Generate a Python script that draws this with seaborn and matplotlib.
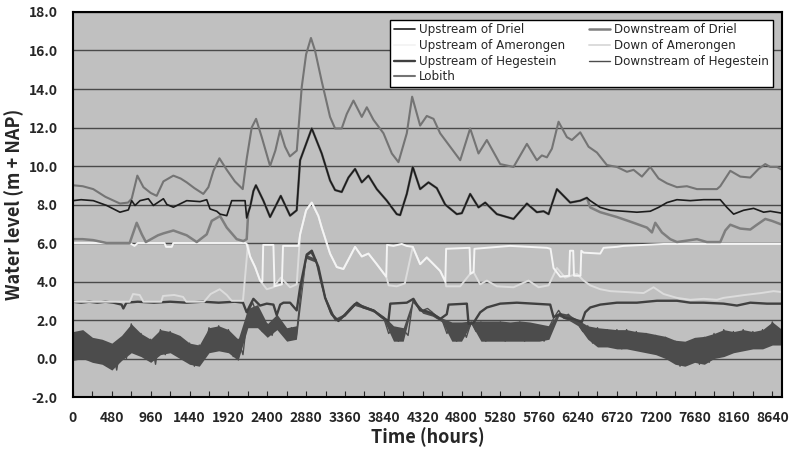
import numpy as np
import pandas as pd
import seaborn as sns
import matplotlib.pyplot as plt

# ---- data (hours, water level m + NAP) ----
lobith_h = [0, 120, 250, 400, 580, 680, 725, 795, 870, 960, 1034, 1117, 1240, 1330, 1405, 1500,
            1610, 1673, 1735, 1809, 1900, 2000, 2097, 2147, 2208, 2262, 2332, 2435, 2500, 2558,
            2620, 2680, 2765, 2826, 2880, 2940, 2990, 3073, 3176, 3238, 3320, 3382, 3465, 3568,
            3630, 3712, 3836, 3939, 4021, 4124, 4190, 4289, 4371, 4454, 4536, 4660, 4784, 4907,
            5010, 5113, 5278, 5443, 5608, 5731, 5793, 5855, 5917, 5999, 6102, 6164, 6267, 6370,
            6473, 6596, 6720, 6844, 6926, 7029, 7132, 7235, 7338, 7462, 7585, 7709, 7832, 7956,
            7997, 8121, 8244, 8368, 8471, 8553, 8615, 8698, 8760]
lobith_v = [9.0, 8.95, 8.8, 8.4, 8.05, 8.1, 8.3, 9.5, 8.9, 8.6, 8.45, 9.2, 9.5, 9.35, 9.15, 8.85,
            8.55, 8.9, 9.75, 10.4, 9.8, 9.2, 8.8, 10.4, 12.0, 12.45, 11.5, 10.0, 10.8, 11.85,
            11.0, 10.5, 10.8, 14.1, 15.8, 16.65, 16.0, 14.4, 12.55, 11.95, 11.95, 12.7, 13.4, 12.55,
            13.05, 12.4, 11.7, 10.65, 10.2, 11.7, 13.6, 12.1, 12.6, 12.45, 11.7, 11.0, 10.3, 11.95,
            10.65, 11.35, 10.1, 9.95, 11.15, 10.3, 10.55, 10.45, 10.9, 12.3, 11.5, 11.35, 11.75, 11.0,
            10.7, 10.05, 9.95, 9.7, 9.8, 9.45, 9.95, 9.35, 9.1, 8.9, 8.95, 8.8, 8.8, 8.8,
            8.95, 9.75, 9.45, 9.4, 9.85, 10.1, 9.95, 9.95, 9.8]

# Driel: both gauges read the same while the weir is open
driel_open_h = [2229, 2260, 2352, 2435, 2567, 2682, 2764, 2806, 2950, 3073, 3176, 3238, 3320, 3403,
                3485, 3568, 3650, 3753, 3877, 4000, 4042, 4124, 4198, 4289, 4392, 4495, 4598, 4742,
                4804, 4907, 5010, 5093, 5237, 5443, 5608, 5731, 5814, 5876, 5979, 6061, 6143, 6267,
                6349]
driel_open_v = [8.7, 9.0, 8.2, 7.35, 8.45, 7.42, 7.7, 10.3, 11.95, 10.65, 9.25, 8.75, 8.65, 9.4,
                9.85, 9.15, 9.5, 8.8, 8.2, 7.5, 7.45, 8.55, 9.95, 8.8, 9.15, 8.85, 8.0, 7.5,
                7.55, 8.55, 7.85, 8.1, 7.5, 7.25, 8.05, 7.6, 7.65, 7.5, 8.8, 8.45, 8.1, 8.2,
                8.35]

up_driel_h = ([0, 100, 251, 416, 580, 684, 725, 766, 828, 931, 993, 1117, 1160, 1240, 1405, 1570,
               1652, 1693, 1776, 1817, 1900, 1961, 2023, 2126, 2146, 2190]
              + driel_open_h
              + [6390, 6514, 6638, 6802, 6967, 7132, 7235, 7338, 7462, 7626, 7791, 7997, 8079,
                 8162, 8285, 8409, 8533, 8615, 8760])
up_driel_v = ([8.2, 8.25, 8.2, 7.95, 7.6, 7.72, 8.2, 7.95, 8.2, 8.3, 7.95, 8.3, 8.0, 7.86, 8.2, 8.15,
               8.25, 7.77, 7.65, 7.5, 7.42, 8.2, 8.2, 8.2, 7.3, 7.9]
              + driel_open_v
              + [8.2, 7.85, 7.7, 7.65, 7.6, 7.65, 7.85, 8.1, 8.25, 8.2, 8.25, 8.25, 7.85,
                 7.5, 7.7, 7.8, 7.6, 7.65, 7.55])

down_driel_h = ([0, 120, 250, 416, 700, 787, 850, 900, 1050, 1117, 1240, 1405, 1529, 1652, 1714,
                 1817, 1900, 2023, 2105, 2146, 2165, 2190]
                + driel_open_h
                + [6390, 6514, 6720, 6926, 7091, 7153, 7194, 7276, 7379, 7462, 7626, 7709, 7832,
                   7997, 8059, 8121, 8244, 8368, 8450, 8553, 8635, 8760])
down_driel_v = ([6.2, 6.2, 6.15, 6.0, 6.0, 7.05, 6.45, 6.05, 6.4, 6.5, 6.65, 6.4, 6.05, 6.45, 7.15,
                 7.4, 6.8, 6.2, 6.1, 6.2, 7.6, 7.9]
                + driel_open_v
                + [7.85, 7.6, 7.35, 7.05, 6.8, 6.55, 7.05, 6.55, 6.2, 6.05, 6.15, 6.2, 6.05,
                   6.05, 6.65, 6.95, 6.75, 6.7, 6.95, 7.25, 7.15, 6.95])

# Amerongen: weir pool level and tail water
amer_flood_h = [2806, 2880, 2950, 3032, 3073, 3176, 3259, 3341, 3423, 3485, 3568, 3650, 3753, 3870]
amer_flood_v = [6.45, 7.7, 8.1, 7.4, 6.8, 5.45, 4.75, 4.65, 5.3, 5.8, 5.3, 5.45, 4.9, 4.25]
amer_flood2_h = [4198, 4289, 4371, 4454, 4536, 4600]
amer_flood2_v = [5.8, 4.9, 5.25, 4.9, 4.55, 4.0]

up_amer_h = ([0, 700, 760, 800, 1130, 1150, 1220, 1240, 2130, 2146, 2188, 2250, 2311, 2340, 2350,
              2476, 2490, 2580, 2595, 2785]
             + amer_flood_h
             + [3880, 3960, 4062, 4120]
             + amer_flood2_h
             + [4610, 4900, 4910, 4950, 4960, 5400, 5855, 5900, 5937, 6020, 6130, 6140, 6180,
                6190, 6270, 6280, 6308, 6514, 6555, 6720, 6802, 7297, 8760])
up_amer_v = ([6.0, 6.0, 5.85, 6.0, 6.0, 5.8, 5.8, 6.0, 6.0, 5.95, 5.3, 4.75, 4.05, 4.0, 5.9,
              5.9, 3.75, 3.85, 5.85, 5.85]
             + amer_flood_v
             + [5.9, 5.85, 5.95, 5.85]
             + amer_flood2_v
             + [5.7, 5.75, 4.4, 4.5, 5.7, 5.85, 5.75, 5.7, 4.7, 4.25, 4.3, 5.6, 5.6,
                4.3, 4.3, 5.6, 5.5, 5.45, 5.75, 5.8, 5.85, 5.95, 5.95])

down_amer_h = ([0, 700, 742, 824, 870, 1090, 1112, 1250, 1360, 1400, 1620, 1700, 1813, 1900, 1960,
                2100, 2142, 2160, 2188, 2250, 2311, 2394, 2476, 2567, 2682, 2764]
               + amer_flood_h
               + [3900, 4000, 4100]
               + amer_flood2_h
               + [4610, 4784, 4907, 4948, 5031, 5113, 5237, 5443, 5628, 5752, 5876, 5979, 6081,
                  6226, 6308, 6390, 6514, 6638, 6844, 7050, 7173, 7297, 7462, 7626, 7791, 7956,
                  8038, 8300, 8500, 8656, 8760])
down_amer_v = ([2.95, 2.95, 3.35, 3.3, 2.95, 2.95, 3.25, 3.3, 3.2, 2.95, 2.95, 3.35, 3.6, 3.3, 3.0,
                3.0, 5.0, 5.9, 5.3, 4.75, 4.05, 3.6, 3.7, 4.2, 3.7, 3.85]
               + amer_flood_v
               + [3.8, 3.75, 3.9]
               + amer_flood2_v
               + [3.75, 3.75, 4.4, 4.5, 3.85, 4.05, 3.75, 3.7, 4.05, 3.7, 3.8, 4.7, 4.2,
                  4.4, 4.05, 3.8, 3.6, 3.5, 3.45, 3.4, 3.7, 3.35, 3.15, 3.05, 3.1, 3.05,
                  3.15, 3.3, 3.4, 3.5, 3.45])

up_heg_h = [0, 100, 200, 300, 400, 500, 600, 622, 660, 800, 1000, 1200, 1400, 1600, 1800, 2000,
            2100, 2146, 2180, 2229, 2311, 2394, 2476, 2517, 2560, 2600, 2682, 2764, 2806, 2888,
            2950, 3032, 3115, 3197, 3279, 3341, 3423, 3506, 3588, 3712, 3815, 3897, 3920, 4124,
            4206, 4289, 4371, 4454, 4536, 4618, 4640, 4866, 4887, 4948, 5031, 5113, 5278, 5484,
            5690, 5896, 5937, 6020, 6081, 6184, 6287, 6328, 6390, 6514, 6720, 6967, 7214, 7462,
            7626, 7791, 8038, 8203, 8368, 8574, 8760]
up_heg_v = [2.95, 2.9, 2.95, 2.9, 2.95, 2.9, 2.8, 2.6, 2.9, 2.95, 2.9, 2.95, 2.9, 2.95, 2.9, 2.95,
            2.9, 2.4, 2.7, 3.1, 2.75, 2.85, 2.8, 2.25, 2.8, 2.9, 2.9, 2.5, 3.7, 5.4,
            5.6, 4.75, 3.15, 2.3, 1.95, 2.2, 2.55, 2.9, 2.65, 2.5, 2.15, 1.95, 2.85, 2.9,
            3.1, 2.5, 2.45, 2.3, 2.05, 2.3, 2.8, 2.85, 1.8, 1.85, 2.4, 2.65, 2.85, 2.9,
            2.85, 2.8, 2.15, 2.3, 2.1, 2.05, 1.9, 2.4, 2.65, 2.8, 2.9, 2.9, 3.0, 3.0,
            2.9, 2.9, 2.85, 2.75, 2.9, 2.85, 2.85]

# tidal gauge: one reading every 60 hours
down_heg_h = np.arange(0, 8761, 60)
down_heg_v = [1.2, 0.0, 1.4, 0.1, 1.0, -0.2, 0.9, -0.4, 0.7, -0.6,
              1.0, 0.0, 1.8, 0.4, 1.3, 0.0, 1.0, -0.3, 1.5, 0.2,
              1.4, 0.3, 1.1, -0.1, 0.8, -0.4, 0.7, 0.0, 1.6, 0.4,
              1.7, 0.4, 1.5, 0.1, 1.0, 0.2, 2.4, 2.9, 2.2, 1.4,
              1.8, 1.2, 2.2, 1.6, 1.0, 1.6, 1.2, 3.6, 5.3, 5.5,
              5.1, 4.0, 3.1, 2.4, 2.0, 2.0, 2.3, 2.6, 2.85, 2.8,
              2.7, 2.6, 2.5, 2.3, 2.1, 1.3, 1.6, 0.9, 1.5, 1.2,
              3.0, 2.7, 2.5, 2.6, 2.4, 2.1, 2.0, 1.3, 1.8, 0.9,
              1.7, 1.1, 1.9, 1.4, 1.9, 0.9, 1.8, 1.0, 1.9, 0.9,
              1.7, 1.0, 1.9, 0.9, 1.8, 1.0, 1.7, 0.9, 1.6, 2.1,
              2.5, 2.1, 2.3, 2.0, 1.8, 1.4, 1.7, 0.8, 1.6, 0.7,
              1.5, 0.6, 1.5, 0.5, 1.5, 0.6, 1.4, 0.4, 1.3, 0.3,
              1.2, 0.2, 1.1, 0.0, 0.9, -0.4, 0.8, -0.2, 1.0, -0.3,
              1.1, -0.2, 1.3, 0.1, 1.5, 0.3, 1.4, 0.4, 1.5, 0.5,
              1.4, 0.6, 1.5, 0.7, 1.9, 0.8, 1.3]
# tidal range of that gauge (low / high water), every 120 hours
heg_range_h = np.arange(0, 8761, 120)
heg_low = [-0.1, 0.0, -0.2, -0.3, -0.6, -0.1, 0.3, 0.1, -0.2, 0.2,
           0.3, 0.0, -0.3, -0.4, 0.3, 0.4, 0.3, -0.1, 1.6, 1.6,
           1.1, 1.5, 0.9, 1.0, 5.2, 5.0, 3.0, 1.95, 2.2, 2.75,
           2.6, 2.4, 2.0, 0.9, 0.9, 2.9, 2.35, 2.2, 1.9, 0.9,
           0.9, 1.8, 0.9, 0.9, 0.9, 0.9, 0.9, 0.9, 0.9, 1.0,
           2.2, 2.0, 1.7, 1.0, 0.6, 0.6, 0.5, 0.5, 0.4, 0.3,
           0.2, 0.0, -0.3, -0.4, -0.2, -0.3, 0.0, 0.1, 0.3, 0.4,
           0.5, 0.5, 0.7, 0.7]
heg_high = [1.4, 1.5, 1.1, 1.0, 0.8, 1.2, 1.8, 1.3, 1.0, 1.5,
            1.4, 1.2, 0.8, 0.7, 1.6, 1.7, 1.5, 1.0, 2.6, 2.8,
            1.8, 2.3, 1.6, 1.7, 5.4, 5.2, 3.2, 2.1, 2.35, 2.9,
            2.75, 2.55, 2.2, 1.7, 1.6, 3.1, 2.55, 2.4, 2.1, 1.9,
            1.9, 1.95, 1.95, 1.95, 1.95, 1.9, 1.95, 1.9, 1.8, 1.7,
            2.4, 2.3, 2.0, 1.7, 1.6, 1.55, 1.5, 1.5, 1.4, 1.35,
            1.25, 1.15, 0.95, 0.9, 1.1, 1.15, 1.3, 1.5, 1.4, 1.5,
            1.4, 1.5, 1.9, 1.5]

# draw order: back to front
series = [
    ("Downstream of Hegestein", down_heg_h, down_heg_v, "#4c4c4c", 1.0),
    ("Upstream of Hegestein", up_heg_h, up_heg_v, "#404040", 1.7),
    ("Down of Amerongen", down_amer_h, down_amer_v, "#dcdcdc", 1.4),
    ("Upstream of Amerongen", up_amer_h, up_amer_v, "#f4f4f4", 1.4),
    ("Lobith", lobith_h, lobith_v, "#747474", 1.5),
    ("Downstream of Driel", down_driel_h, down_driel_v, "#7e7e7e", 1.8),
    ("Upstream of Driel", up_driel_h, up_driel_v, "#1c1c1c", 1.2),
]
legend_order = ["Upstream of Driel", "Upstream of Amerongen", "Upstream of Hegestein", "Lobith",
                "Downstream of Driel", "Down of Amerongen", "Downstream of Hegestein"]

sns.set_style("ticks")
plt.rcParams['font.family'] = ['Noto Sans CJK KR', 'DejaVu Sans']

fig = plt.figure(figsize=(7.9, 4.51), dpi=100)
ax = fig.add_axes([0.0924, 0.1197, 0.8975, 0.8537])
ax.set_facecolor("#c0c0c0")

ax.fill_between(heg_range_h, heg_low, heg_high, color="#4c4c4c", lw=0)
for name, h, v, col, lw in series:
    df = pd.DataFrame({"hour": h, "level": v})
    sns.lineplot(data=df, x="hour", y="level", color=col, lw=lw, estimator=None,
                 sort=False, ax=ax, label=name)

ax.set_xlim(0, 8760)
ax.set_ylim(-2, 18)
yt = np.arange(-2, 18.1, 2)
ax.set_yticks(yt)
ax.set_yticklabels([f"{t:.1f}" for t in yt])
ax.set_xticks(np.arange(0, 8641, 480))
ax.set_xticks(np.arange(240, 8760, 480), minor=True)
ax.grid(axis="y", color="#4a4a4a", lw=1.0)
ax.set_axisbelow(True)
ax.tick_params(axis="x", which="both", direction="in", length=4, width=0.8, pad=10)
ax.tick_params(axis="y", length=0, pad=11)
for lab in ax.get_xticklabels() + ax.get_yticklabels():
    lab.set_fontsize(10)
    lab.set_fontweight("bold")
for sp in ax.spines.values():
    sp.set_color("black")
    sp.set_linewidth(1.5)

ax.set_xlabel("Time (hours)", fontsize=13, fontweight="bold", labelpad=2)
ax.set_ylabel("Water level (m + NAP)", fontsize=13, fontweight="bold", labelpad=3)

handles, labels = ax.get_legend_handles_labels()
lookup = dict(zip(labels, handles))
leg = ax.legend([lookup[n] for n in legend_order], legend_order, ncol=2, loc="upper right",
                bbox_to_anchor=(0.995, 0.995), frameon=True, fancybox=False, edgecolor="black",
                framealpha=1, prop={"family": "DejaVu Sans", "size": 8.6},
                handlelength=1.8, handletextpad=0.3, borderpad=0.3, labelspacing=0.22,
                columnspacing=2.0)
leg.get_frame().set_linewidth(1.0)

fig.savefig("out.png", dpi=100)
